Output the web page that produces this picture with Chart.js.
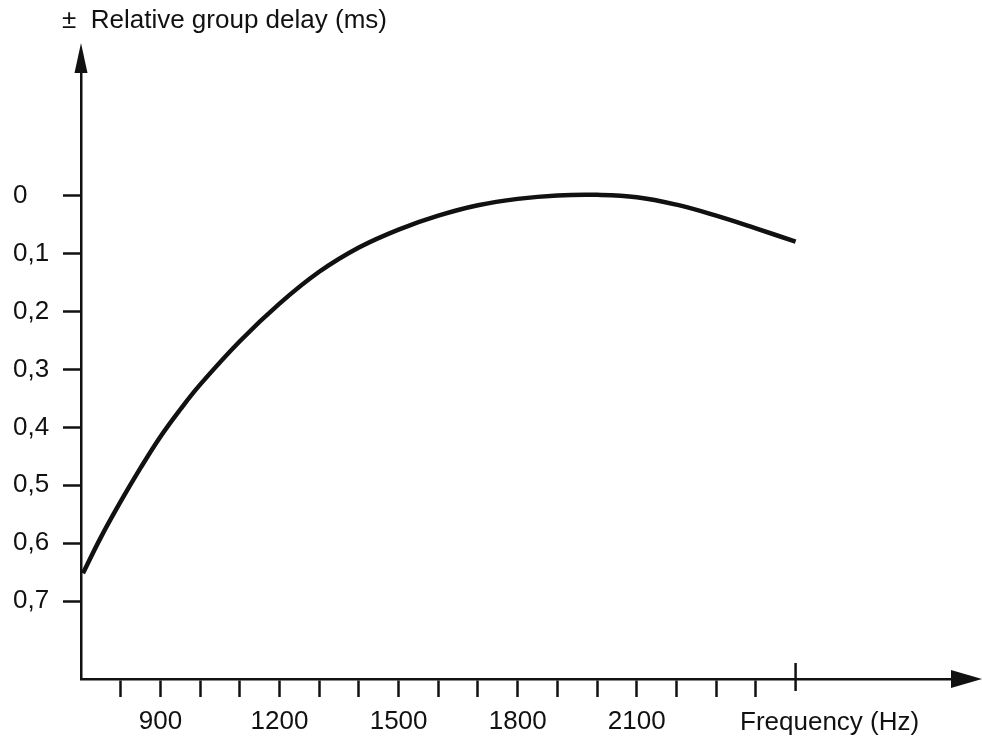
<!DOCTYPE html>
<html>
<head>
<meta charset="utf-8">
<script src="https://cdn.jsdelivr.net/npm/chart.js@4.4.1/dist/chart.umd.min.js"></script>
<style>
  html, body { margin: 0; padding: 0; background: #fff; }
  #wrap { width: 982px; height: 741px; }
</style>
</head>
<body>
<div id="wrap"><canvas id="delay-chart" width="982" height="741"></canvas></div>
<script>
// ========== DATA ========== //
const freqHz = [705, 750, 800, 850, 900, 950, 1000, 1100, 1200, 1300, 1400, 1500, 1600, 1700, 1800, 1900, 2000, 2100, 2200, 2300, 2400, 2500];
const groupDelayMs = [0.652, 0.590, 0.528, 0.470, 0.416, 0.369, 0.326, 0.251, 0.186, 0.131, 0.089, 0.058, 0.034, 0.016, 0.005, -0.001, -0.002, 0.002, 0.015, 0.034, 0.056, 0.079];

const xTickValues = [800, 900, 1000, 1100, 1200, 1300, 1400, 1500, 1600, 1700, 1800, 1900, 2000, 2100, 2200, 2300, 2400, 2500];
const xLabelValues = [900, 1200, 1500, 1800, 2100];
const xLabelTexts = ["900", "1200", "1500", "1800", "2100"];
const xMarkerValue = 2500;

const yTickValues = [0, 0.1, 0.2, 0.3, 0.4, 0.5, 0.6, 0.7];
const yTickLabels = ["0", "0,1", "0,2", "0,3", "0,4", "0,5", "0,6", "0,7"];

const yTitle = "\u00B1  Relative group delay (ms)";
const xTitle = "Frequency (Hz)";

const FONT = "'Liberation Sans', Arial, sans-serif";
const INK = "#111";

// ========== PLUGIN: arrows, marker tick, axis texts ========== //
const axisDecor = {
  id: "axisDecor",
  afterDraw(chart) {
    const { ctx, chartArea, scales } = chart;
    const xs = scales.x;
    ctx.save();
    ctx.fillStyle = INK;
    ctx.strokeStyle = INK;

    // y arrow
    const ax = chartArea.left;
    ctx.beginPath();
    ctx.moveTo(ax, chartArea.top - 29);
    ctx.lineTo(ax - 6.5, chartArea.top + 1);
    ctx.lineTo(ax + 6.5, chartArea.top + 1);
    ctx.closePath();
    ctx.fill();

    // x arrow
    const ay = chartArea.bottom;
    ctx.beginPath();
    ctx.moveTo(chartArea.right + 30, ay);
    ctx.lineTo(chartArea.right - 1, ay - 9);
    ctx.lineTo(chartArea.right - 1, ay + 9);
    ctx.closePath();
    ctx.fill();

    // tall marker tick
    const mx = xs.getPixelForValue(xMarkerValue);
    ctx.lineWidth = 2.5;
    ctx.beginPath();
    ctx.moveTo(mx, ay - 16);
    ctx.lineTo(mx, ay + 12);
    ctx.stroke();

    // axis titles
    ctx.font = "26px " + FONT;
    ctx.textAlign = "left";
    ctx.textBaseline = "alphabetic";
    ctx.fillText(yTitle, 62, 28);
    ctx.fillText(xTitle, 740, 730);
    ctx.restore();
  }
};

// ========== CHART ========== //
function createChart() {
  const ctx = document.getElementById("delay-chart").getContext("2d");
  return new Chart(ctx, {
    type: "line",
    data: {
      datasets: [{
        data: freqHz.map((f, i) => ({ x: f, y: groupDelayMs[i] })),
        borderColor: INK,
        borderWidth: 4.5,
        pointRadius: 0,
        tension: 0.4,
        fill: false
      }]
    },
    options: {
      responsive: false,
      animation: false,
      layout: { padding: { left: 13, right: 30, top: 72, bottom: 0 } },
      plugins: { legend: { display: false }, tooltip: { enabled: false }, title: { display: false } },
      scales: {
        x: {
          type: "linear",
          min: 700,
          max: 2894,
          afterBuildTicks: axis => { axis.ticks = xTickValues.map(v => ({ value: v })); },
          afterFit: scale => { scale.height = 62; },
          grid: {
            drawOnChartArea: false,
            drawTicks: true,
            tickLength: 18,
            tickWidth: 2.5,
            tickColor: c => (c.tick && c.tick.value === xMarkerValue ? "rgba(0,0,0,0)" : INK)
          },
          border: { display: true, color: INK, width: 2.5 },
          ticks: {
            autoSkip: false,
            maxRotation: 0,
            padding: 9,
            color: INK,
            font: { size: 26, family: FONT },
            callback: v => {
              const i = xLabelValues.indexOf(v);
              return i >= 0 ? xLabelTexts[i] : "";
            }
          }
        },
        y: {
          type: "linear",
          reverse: true,
          min: -0.2143,
          max: 0.8348,
          afterBuildTicks: axis => { axis.ticks = yTickValues.map(v => ({ value: v })); },
          afterFit: scale => { scale.width = 68; },
          grid: {
            drawOnChartArea: false,
            drawTicks: true,
            tickLength: 18,
            tickWidth: 2.5,
            tickColor: INK
          },
          border: { display: true, color: INK, width: 2.5 },
          ticks: {
            autoSkip: false,
            crossAlign: "far",
            color: INK,
            font: { size: 26, family: FONT },
            callback: (v, i) => yTickLabels[i]
          }
        }
      }
    },
    plugins: [axisDecor]
  });
}

// Init
createChart();
</script>
</body>
</html>
